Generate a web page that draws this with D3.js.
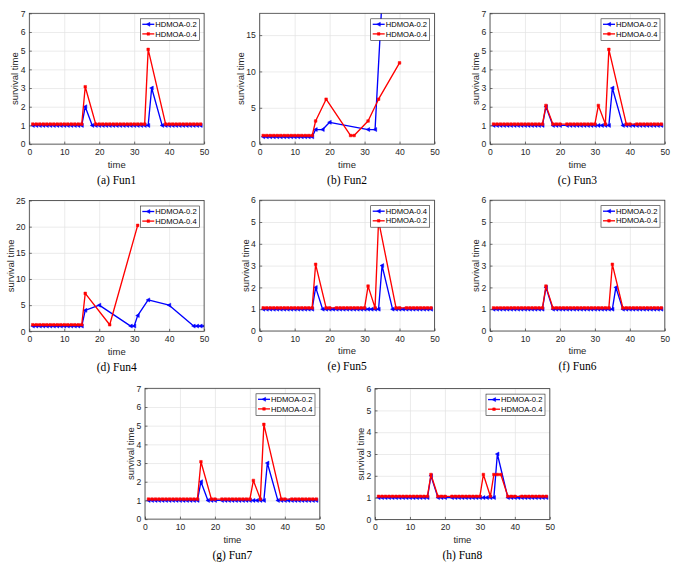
<!DOCTYPE html>
<html><head><meta charset="utf-8">
<script src="https://cdn.jsdelivr.net/npm/d3@7"></script>
<style>body{margin:0;background:#fff}svg{display:block}</style>
</head><body><svg id="c" width="685" height="565"></svg>
<script>
// ---------------- DATA ----------------
const xTickValues = [0,10,20,30,40,50];

const fun1_02_t = [1,2,3,4,5,6,7,8,9,10,11,12,13,14,15,16,18,19,20,21,22,23,24,25,26,27,28,29,30,31,32,33,34,35,38,39,40,41,42,43,44,45,46,47,48,49];
const fun1_02_v = [1,1,1,1,1,1,1,1,1,1,1,1,1,1,1,2,1,1,1,1,1,1,1,1,1,1,1,1,1,1,1,1,1,3,1,1,1,1,1,1,1,1,1,1,1,1];
const fun1_04_t = [1,2,3,4,5,6,7,8,9,10,11,12,13,14,15,16,19,20,21,22,23,24,25,26,27,28,29,30,31,32,33,34,39,40,41,42,43,44,45,46,47,48,49];
const fun1_04_v = [1,1,1,1,1,1,1,1,1,1,1,1,1,1,1,3,1,1,1,1,1,1,1,1,1,1,1,1,1,1,1,5,1,1,1,1,1,1,1,1,1,1,1];

const fun2_02_t = [1,2,3,4,5,6,7,8,9,10,11,12,13,14,15,16,18,20,31,33,35];
const fun2_02_v = [1,1,1,1,1,1,1,1,1,1,1,1,1,1,1,2,2,3,2,2,20];
const fun2_04_t = [1,2,3,4,5,6,7,8,9,10,11,12,13,14,15,16,19,26,27,31,34,40];
const fun2_04_v = [1,1,1,1,1,1,1,1,1,1,1,1,1,1,1,3,6,1,1,3,6,11];

const fun3_02_t = [1,2,3,4,5,6,7,8,9,10,11,12,13,14,15,16,18,19,20,22,23,24,25,26,27,28,29,30,31,32,33,34,35,38,39,40,41,42,43,44,45,46,47,48,49];
const fun3_02_v = [1,1,1,1,1,1,1,1,1,1,1,1,1,1,1,2,1,1,1,1,1,1,1,1,1,1,1,1,1,1,1,1,3,1,1,1,1,1,1,1,1,1,1,1,1];
const fun3_04_t = [1,2,3,4,5,6,7,8,9,10,11,12,13,14,15,16,18,19,20,22,23,24,25,26,27,28,29,30,31,33,34,39,40,42,43,44,45,46,47,48,49];
const fun3_04_v = [1,1,1,1,1,1,1,1,1,1,1,1,1,1,1,2,1,1,1,1,1,1,1,1,1,1,1,1,2,1,5,1,1,1,1,1,1,1,1,1,1];

const fun4_02_t = [1,2,3,4,5,6,7,8,9,10,11,12,13,14,15,16,20,29,30,31,34,40,47,48,49,50];
const fun4_02_v = [1,1,1,1,1,1,1,1,1,1,1,1,1,1,1,4,5,1,1,3,6,5,1,1,1,1];
const fun4_04_t = [1,2,3,4,5,6,7,8,9,10,11,12,13,14,15,16,23,31];
const fun4_04_v = [1,1,1,1,1,1,1,1,1,1,1,1,1,1,1,7,1,20];

const fun5_04_t = [1,2,3,4,5,6,7,8,9,10,11,12,13,14,15,16,18,19,20,21,22,23,24,25,26,27,28,29,30,31,32,33,34,35,38,39,40,41,42,43,44,45,46,47,48,49];
const fun5_04_v = [1,1,1,1,1,1,1,1,1,1,1,1,1,1,1,2,1,1,1,1,1,1,1,1,1,1,1,1,1,1,1,1,1,3,1,1,1,1,1,1,1,1,1,1,1,1];
const fun5_02_t = [1,2,3,4,5,6,7,8,9,10,11,12,13,14,15,16,19,20,22,23,24,25,26,27,28,29,30,31,33,34,39,40,42,43,44,45,46,47,48,49];
const fun5_02_v = [1,1,1,1,1,1,1,1,1,1,1,1,1,1,1,3,1,1,1,1,1,1,1,1,1,1,1,2,1,5,1,1,1,1,1,1,1,1,1,1];

const fun6_02_t = [1,2,3,4,5,6,7,8,9,10,11,12,13,14,15,16,18,19,20,21,22,23,24,25,26,27,28,29,30,31,32,33,34,35,36,38,39,40,41,42,43,44,45,46,47,48,49];
const fun6_02_v = [1,1,1,1,1,1,1,1,1,1,1,1,1,1,1,2,1,1,1,1,1,1,1,1,1,1,1,1,1,1,1,1,1,1,2,1,1,1,1,1,1,1,1,1,1,1,1];
const fun6_04_t = [1,2,3,4,5,6,7,8,9,10,11,12,13,14,15,16,18,19,20,21,22,23,24,25,26,27,28,29,30,31,32,33,34,35,38,39,40,41,42,43,44,45,46,47,48,49];
const fun6_04_v = [1,1,1,1,1,1,1,1,1,1,1,1,1,1,1,2,1,1,1,1,1,1,1,1,1,1,1,1,1,1,1,1,1,3,1,1,1,1,1,1,1,1,1,1,1,1];

const fun7_02_t = [1,2,3,4,5,6,7,8,9,10,11,12,13,14,15,16,18,19,20,22,23,24,25,26,27,28,29,30,31,32,33,34,35,38,39,40,41,42,43,44,45,46,47,48,49];
const fun7_02_v = [1,1,1,1,1,1,1,1,1,1,1,1,1,1,1,2,1,1,1,1,1,1,1,1,1,1,1,1,1,1,1,1,3,1,1,1,1,1,1,1,1,1,1,1,1];
const fun7_04_t = [1,2,3,4,5,6,7,8,9,10,11,12,13,14,15,16,19,20,22,23,24,25,26,27,28,29,30,31,33,34,39,40,42,43,44,45,46,47,48,49];
const fun7_04_v = [1,1,1,1,1,1,1,1,1,1,1,1,1,1,1,3,1,1,1,1,1,1,1,1,1,1,1,2,1,5,1,1,1,1,1,1,1,1,1,1];

const fun8_02_t = [1,2,3,4,5,6,7,8,9,10,11,12,13,14,15,16,18,19,20,22,23,24,25,26,27,28,29,30,31,32,33,34,35,38,39,40,41,42,43,44,45,46,47,48,49];
const fun8_02_v = [1,1,1,1,1,1,1,1,1,1,1,1,1,1,1,2,1,1,1,1,1,1,1,1,1,1,1,1,1,1,1,1,3,1,1,1,1,1,1,1,1,1,1,1,1];
const fun8_04_t = [1,2,3,4,5,6,7,8,9,10,11,12,13,14,15,16,18,19,20,22,23,24,25,26,27,28,29,30,31,33,34,35,36,38,39,40,42,43,44,45,46,47,48,49];
const fun8_04_v = [1,1,1,1,1,1,1,1,1,1,1,1,1,1,1,2,1,1,1,1,1,1,1,1,1,1,1,1,2,1,2,2,2,1,1,1,1,1,1,1,1,1,1,1];

const panelCaptions = ['(a) Fun1','(b) Fun2','(c) Fun3','(d) Fun4','(e) Fun5','(f) Fun6','(g) Fun7','(h) Fun8'];
const panelYMax = [7,18,7,25,6,6,7,6];
const panelYTicks = [[0,1,2,3,4,5,6,7],[0,5,10,15],[0,1,2,3,4,5,6,7],[0,5,10,15,20,25],[0,1,2,3,4,5,6],[0,1,2,3,4,5,6],[0,1,2,3,4,5,6,7],[0,1,2,3,4,5,6]];
const panelSeries = [
  [['HDMOA-0.2',fun1_02_t,fun1_02_v],['HDMOA-0.4',fun1_04_t,fun1_04_v]],
  [['HDMOA-0.2',fun2_02_t,fun2_02_v],['HDMOA-0.4',fun2_04_t,fun2_04_v]],
  [['HDMOA-0.2',fun3_02_t,fun3_02_v],['HDMOA-0.4',fun3_04_t,fun3_04_v]],
  [['HDMOA-0.2',fun4_02_t,fun4_02_v],['HDMOA-0.4',fun4_04_t,fun4_04_v]],
  [['HDMOA-0.4',fun5_04_t,fun5_04_v],['HDMOA-0.2',fun5_02_t,fun5_02_v]],
  [['HDMOA-0.2',fun6_02_t,fun6_02_v],['HDMOA-0.4',fun6_04_t,fun6_04_v]],
  [['HDMOA-0.2',fun7_02_t,fun7_02_v],['HDMOA-0.4',fun7_04_t,fun7_04_v]],
  [['HDMOA-0.2',fun8_02_t,fun8_02_v],['HDMOA-0.4',fun8_04_t,fun8_04_v]]
];

// ---------------- LAYOUT / STYLE ----------------
const boxes = [[29.3,13.3],[259.7,13.3],[490,13.3],[29.3,200.5],[259.7,200.2],[490,200.2],[145,388.3],[375,388.6]];
const W = 174.8, H = 130.8;
const seriesStyle = [{color:'#0000ff', marker:'tri'},{color:'#ff0000', marker:'sq'}];
const markerShape = {
  tri: 'M-2,0L1.6,-2L1.6,2Z',
  sq: 'M-1.3,-1.3L1.3,-1.3L1.3,1.3L-1.3,1.3Z'
};

const svg = d3.select('#c');
svg.append('rect').attr('width',685).attr('height',565).attr('fill','#fff');
const sans = 'Arial, "Liberation Sans", Helvetica, sans-serif';
const serif = '"Liberation Serif", "Times New Roman", serif';
const intFmt = d3.format('d');

panelCaptions.forEach((cap, i) => {
  const [L, T] = boxes[i];
  const g = svg.append('g').attr('transform', `translate(${L},${T})`);
  const x = d3.scaleLinear().domain([0,50]).range([0,W]);
  const y = d3.scaleLinear().domain([0,panelYMax[i]]).range([H,0]);
  const yt = panelYTicks[i];

  // grid
  g.append('g').attr('transform',`translate(0,${H})`)
    .call(d3.axisBottom(x).tickValues(xTickValues).tickSize(-H).tickFormat(''))
    .call(a=>{a.select('.domain').remove(); a.selectAll('line').attr('stroke','#e2e2e2').attr('stroke-width',0.7);});
  g.append('g')
    .call(d3.axisLeft(y).tickValues(yt).tickSize(-W).tickFormat(''))
    .call(a=>{a.select('.domain').remove(); a.selectAll('line').attr('stroke','#e2e2e2').attr('stroke-width',0.7);});

  // clip
  const cid = 'clip'+i;
  g.append('clipPath').attr('id',cid).append('rect').attr('x',0).attr('y',0).attr('width',W).attr('height',H);

  // series
  const series = panelSeries[i];
  series.forEach((s, k) => {
    const [label, ts, vs] = s;
    if (ts.length !== vs.length) throw new Error('length mismatch panel '+i+' series '+k);
    const pts = d3.zip(ts, vs);
    const st = seriesStyle[k];
    const sg = g.append('g').attr('clip-path',`url(#${cid})`)
      .append('g').attr('transform', k===1 ? 'translate(0,-1.3)' : null);
    sg.append('path').datum(pts)
      .attr('fill','none').attr('stroke',st.color).attr('stroke-width',1.35).attr('stroke-linejoin','round')
      .attr('d', d3.line().x(d=>x(d[0])).y(d=>y(d[1])));
    sg.selectAll('path.m').data(pts).enter().append('path').attr('class','m')
      .attr('transform', d=>`translate(${x(d[0])},${y(d[1])})`)
      .attr('d', markerShape[st.marker]).attr('fill',st.color).attr('stroke',st.color).attr('stroke-width',0.5);
  });

  // box
  g.append('rect').attr('x',0).attr('y',0).attr('width',W).attr('height',H)
    .attr('fill','none').attr('stroke','#3a3a3a').attr('stroke-width',0.8);

  // axes
  const ax = g.append('g').attr('transform',`translate(0,${H})`)
    .call(d3.axisBottom(x).tickValues(xTickValues).tickFormat(intFmt).tickSize(-2.5).tickPadding(4.5));
  const ay = g.append('g')
    .call(d3.axisLeft(y).tickValues(yt).tickFormat(intFmt).tickSize(-2.5).tickPadding(3.8));
  [ax, ay].forEach(a => {
    a.select('.domain').remove();
    a.selectAll('line').attr('stroke','#3a3a3a').attr('stroke-width',0.7);
    a.selectAll('text').attr('fill','#262626').style('font-family',sans).style('font-size','8.6px');
  });

  // labels
  g.append('text').attr('x',W/2).attr('y',H+23.5).attr('text-anchor','middle')
    .style('font-family',sans).style('font-size','9.5px').attr('fill','#262626').text('time');
  const yl = panelYMax[i] >= 10 ? -15.5 : -11;
  g.append('text').attr('transform',`translate(${yl},${H/2}) rotate(-90)`).attr('text-anchor','middle')
    .style('font-family',sans).style('font-size','9.5px').attr('fill','#262626').text('survival time');

  // legend
  const lw = 59, lh = 21.5;
  const lg = g.append('g').attr('transform',`translate(${W-4.8-lw},${5.5})`);
  lg.append('rect').attr('width',lw).attr('height',lh).attr('fill','#fff').attr('stroke','#262626').attr('stroke-width',0.6);
  series.forEach((s, k) => {
    const st = seriesStyle[k];
    const yy = 5.5 + k*9.6;
    lg.append('line').attr('x1',2).attr('x2',14).attr('y1',yy).attr('y2',yy).attr('stroke',st.color).attr('stroke-width',1.3);
    lg.append('path').attr('transform',`translate(8,${yy})`).attr('d',markerShape[st.marker]).attr('fill',st.color).attr('stroke',st.color).attr('stroke-width',0.5);
    lg.append('text').attr('x',15).attr('y',yy).attr('dy','0.35em')
      .style('font-family',sans).style('font-size','7.6px').attr('fill','#000').text(s[0]);
  });

  // caption
  g.append('text').attr('x',W/2).attr('y',H+39.5).attr('text-anchor','middle')
    .style('font-family',serif).style('font-size','11.5px').attr('fill','#000').text(cap);
});
</script></body></html>
